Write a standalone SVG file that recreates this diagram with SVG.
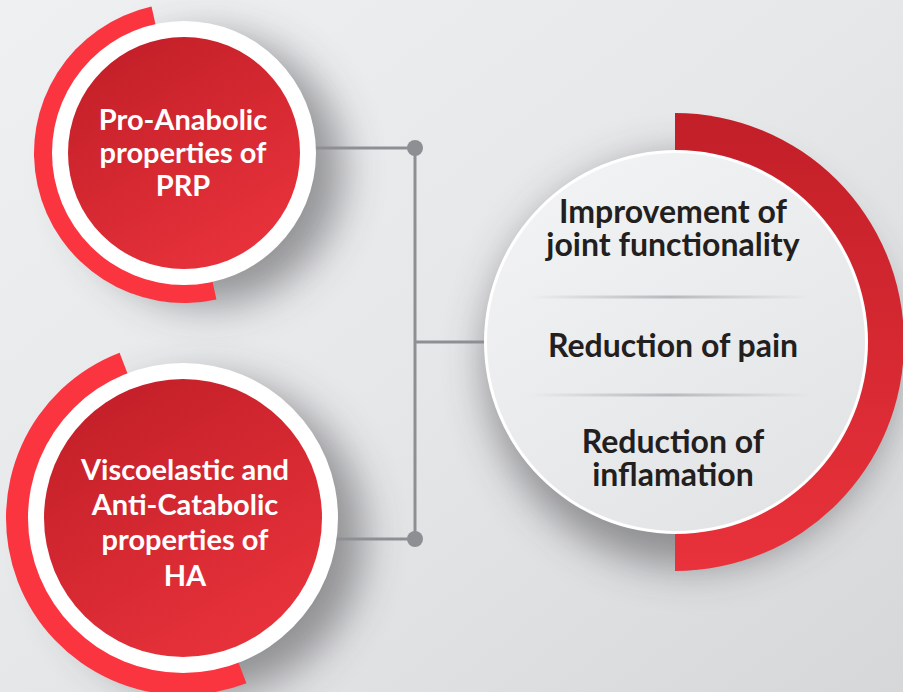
<svg xmlns="http://www.w3.org/2000/svg" width="903" height="692" viewBox="0 0 903 692">
  <defs>
    <linearGradient id="bg" x1="0" y1="0" x2="1" y2="1">
      <stop offset="0" stop-color="#eef0f2"/>
      <stop offset="0.5" stop-color="#e6e7e9"/>
      <stop offset="1" stop-color="#d6d7d9"/>
    </linearGradient>
    <linearGradient id="redFill" x1="0.2" y1="0" x2="0.8" y2="1">
      <stop offset="0" stop-color="#c21f28"/>
      <stop offset="1" stop-color="#ea333c"/>
    </linearGradient>
    <linearGradient id="arcRight" x1="0" y1="0" x2="0" y2="1">
      <stop offset="0" stop-color="#c21f28"/>
      <stop offset="1" stop-color="#e9323b"/>
    </linearGradient>
    <linearGradient id="lightFill" x1="0.2" y1="0" x2="0.8" y2="1">
      <stop offset="0" stop-color="#f2f3f5"/>
      <stop offset="1" stop-color="#e2e3e5"/>
    </linearGradient>
    <linearGradient id="sep" x1="0" y1="0" x2="1" y2="0">
      <stop offset="0" stop-color="#b8b9bd" stop-opacity="0"/>
      <stop offset="0.5" stop-color="#b8b9bd" stop-opacity="1"/>
      <stop offset="1" stop-color="#b8b9bd" stop-opacity="0"/>
    </linearGradient>
    <filter id="shadow" x="-50%" y="-50%" width="200%" height="200%">
      <feGaussianBlur stdDeviation="20"/>
    </filter>
    <style>
      .arc-l { fill: #fa3540; }
      .ring { fill: #ffffff; }
      .core { fill: url(#redFill); }
      .lbl-w { font-family: Lato, "Open Sans", sans-serif; font-weight: 700; font-size: 29px; fill: #ffffff; text-anchor: middle; }
      .lbl-d { font-family: Lato, "Open Sans", sans-serif; font-weight: 700; font-size: 32px; fill: #231f20; text-anchor: middle; }
      .conn { stroke: #8e8f93; stroke-width: 3; fill: none; }
      .dot { fill: #8e8f93; }
      .sh { fill: #3f4043; opacity: 0.5; filter: url(#shadow); }
    </style>
  </defs>

  <rect x="0" y="0" width="903" height="692" fill="url(#bg)"/>

  <!-- shadows -->
  <circle class="sh" cx="208" cy="170" r="135"/>
  <circle class="sh" cx="206" cy="537" r="158"/>
  <circle class="sh" cx="690" cy="362" r="205"/>

  <!-- connectors -->
  <g id="connectors">
    <line class="conn" x1="310" y1="148" x2="415" y2="148"/>
    <line class="conn" x1="330" y1="539" x2="415" y2="539"/>
    <line class="conn" x1="415" y1="148" x2="415" y2="539"/>
    <line class="conn" x1="415" y1="342" x2="486" y2="342"/>
    <circle class="dot" cx="415" cy="148" r="8"/>
    <circle class="dot" cx="415" cy="539" r="8"/>
  </g>

  <!-- node: PRP -->
  <g id="node-prp">
    <path class="arc-l" d="M184,3 A150,150 0 0 0 184,303 Z" transform="rotate(-12.5 184 153)"/>
    <circle class="ring" cx="184" cy="153" r="132"/>
    <circle class="core" cx="184" cy="153" r="116"/>
    <text class="lbl-w" x="183" y="130">Pro-Anabolic</text>
    <text class="lbl-w" x="183" y="163">properties of</text>
    <text class="lbl-w" x="183" y="196">PRP</text>
  </g>

  <!-- node: HA -->
  <g id="node-ha">
    <path class="arc-l" d="M183,341 A177,177 0 0 0 183,695 Z" transform="rotate(-21 183 518)"/>
    <circle class="ring" cx="183" cy="518" r="155"/>
    <circle class="core" cx="183" cy="518" r="139"/>
    <text class="lbl-w" x="185" y="480">Viscoelastic and</text>
    <text class="lbl-w" x="185" y="515">Anti-Catabolic</text>
    <text class="lbl-w" x="185" y="550">properties of</text>
    <text class="lbl-w" x="185" y="586">HA</text>
  </g>

  <!-- node: outcomes -->
  <g id="node-outcomes">
    <path d="M675,113 A229,229 0 0 1 675,571 Z" fill="url(#arcRight)"/>
    <circle cx="676" cy="342" r="192" fill="#ffffff"/>
    <circle cx="676" cy="342" r="189" fill="url(#lightFill)"/>
    <rect x="530" y="295.5" width="280" height="3" fill="url(#sep)"/>
    <rect x="530" y="393.5" width="280" height="3" fill="url(#sep)"/>
    <text class="lbl-d" x="673" y="223">Improvement of</text>
    <text class="lbl-d" x="673" y="256">joint functionality</text>
    <text class="lbl-d" x="673" y="357">Reduction of pain</text>
    <text class="lbl-d" x="673" y="453">Reduction of</text>
    <text class="lbl-d" x="673" y="486">inflamation</text>
  </g>
</svg>
